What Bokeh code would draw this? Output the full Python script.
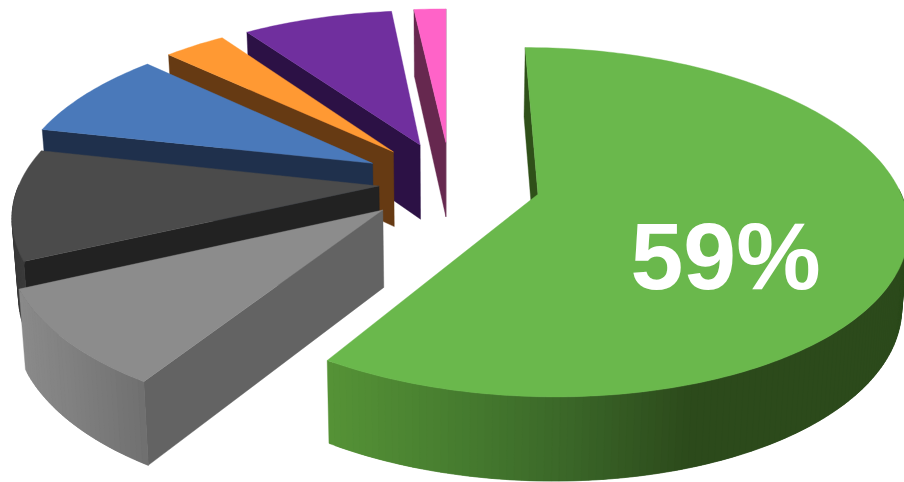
import math
import numpy as np
from bokeh.core.properties import value
from bokeh.embed import file_html
from bokeh.models import Range1d
from bokeh.plotting import figure
from bokeh.resources import INLINE

# Slices in counter-clockwise order from twelve o'clock (back to front on the left).
shares = [1.7, 8.0, 3.3, 8.5, 10.4, 9.1, 59.0]
explode = [0.25, 0.25, 0.25, 0.25, 0.20, 0.245, 0.25]
top_colors = ["#FF63C8", "#702F9E", "#FF9933", "#4A79BA", "#4B4B4B", "#8C8C8C", "#6AB84C"]
wall_colors = ["#66284F", "#2C1145", "#663A13", "#1F304C", "#222222", "#636363", "#2F5019"]
# Horizontal shading of the curved rim: (screen x, colour) stops.
rim_shading = {
    4: [(10, "#3A3A3A"), (30, "#3A3A3A")],
    5: [(20, "#8A8A8A"), (80, "#7E7E7E"), (150, "#6E6E6E")],
    6: [(330, "#559236"), (460, "#467C2F"), (570, "#3A6628"), (690, "#2C4A1B"), (903, "#2C4A1B")],
}
label_text = "59%"

# Projection of the pie plane on to the page.
CX, CY = 445.5, 190.0
SCALE_X, SCALE_Y, PERSPECTIVE = 362.0, 169.0, 0.16
SHIFT_U, SHIFT_V = 0.013, 0.048
THICKNESS, THICKNESS_SLOPE, BASE_SHRINK = 76.5, 7.5, 0.985


def top_point(u, v):
    w = 1 + PERSPECTIVE * v
    return CX + SCALE_X * u / w, CY - SCALE_Y * v / w


def base_point(u, v):
    x, y = top_point(u, v)
    return CX + (x - CX) * BASE_SHRINK, y + THICKNESS - THICKNESS_SLOPE * v


def hex_rgb(c):
    return np.array([int(c[i:i + 2], 16) for i in (1, 3, 5)], dtype=float)


def shade(stops, x):
    xs = [s[0] for s in stops]
    rgb = np.array([hex_rgb(s[1]) for s in stops])
    vals = [np.interp(x, xs, rgb[:, i]) for i in range(3)]
    return "#%02X%02X%02X" % tuple(int(round(a)) for a in vals)


def cross(a, b):
    return a[0] * b[1] - a[1] * b[0]


def wall_faces_viewer(apex, edge, inner):
    """A cut wall shows only when its depth points away from the slice's top."""
    a, b = top_point(*apex), top_point(*edge)
    c = top_point(*inner)
    mid = ((apex[0] + edge[0]) / 2, (apex[1] + edge[1]) / 2)
    t, d = top_point(*mid), base_point(*mid)
    along = (b[0] - a[0], b[1] - a[1])
    side_in = cross(along, (c[0] - a[0], c[1] - a[1]))
    side_depth = cross(along, (d[0] - t[0], d[1] - t[1]))
    return side_in * side_depth < 0


face_x, face_y, face_color = [], [], []


def add_face(points, color):
    face_x.append([pt[0] for pt in points])
    face_y.append([pt[1] for pt in points])
    face_color.append(color)


end_angle = 0.0
for i, share in enumerate(shares):
    start_angle = end_angle
    end_angle = start_angle - 360.0 * share / 100.0
    mid = math.radians((start_angle + end_angle) / 2)
    au = SHIFT_U + explode[i] * math.sin(mid)
    av = SHIFT_V + explode[i] * math.cos(mid)

    steps = max(6, int(abs(end_angle - start_angle)))
    angles = np.radians(np.linspace(start_angle, end_angle, steps + 1))
    rim = [(au + math.sin(t), av + math.cos(t)) for t in angles]

    # Flat walls along the cut edges that face the viewer.
    nudge = math.radians(1.0)
    for t, sign in ((angles[0], -1), (angles[-1], 1)):
        edge = (au + math.sin(t), av + math.cos(t))
        inner = (au + 0.5 * math.sin(t + sign * nudge), av + 0.5 * math.cos(t + sign * nudge))
        if wall_faces_viewer((au, av), edge, inner):
            add_face([top_point(au, av), top_point(*edge), base_point(*edge), base_point(au, av)], wall_colors[i])

    # Curved rim on the near side, painted along the arc with each strip
    # running under the next so no gaps show between them.
    for k in range(steps):
        if math.cos(angles[k]) > 0.0 and math.cos(angles[k + 1]) > 0.0:
            continue
        run = rim[k:min(k + 3, steps + 1)]
        poly = [top_point(*q) for q in run] + [base_point(*q) for q in reversed(run)]
        strip_x = (top_point(*rim[k])[0] + top_point(*rim[k + 1])[0]) / 2
        color = shade(rim_shading[i], strip_x) if i in rim_shading else wall_colors[i]
        add_face(poly, color)

    # Top surface.
    add_face([top_point(au, av)] + [top_point(u, v) for u, v in rim], top_colors[i])

p = figure(
    width=904, height=482, output_backend="svg", toolbar_location=None,
    x_range=Range1d(0, 904), y_range=Range1d(482, 0), min_border=0,
    background_fill_color="white", border_fill_color="white", outline_line_color=None,
)
p.axis.visible = False
p.grid.visible = False

p.patches(face_x, face_y, fill_color=face_color, line_color=face_color, line_width=0.4)
p.text(
    x=[630], y=[255], text=[label_text], text_color="white",
    text_font=value("Liberation Sans"), text_font_style="bold", text_font_size="95px",
    text_align="left", text_baseline="alphabetic",
)

open("out.html", "w").write(file_html(p, INLINE))
